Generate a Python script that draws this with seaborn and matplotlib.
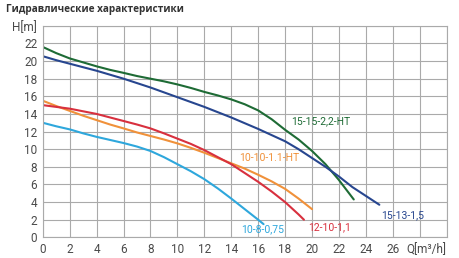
import numpy as np
import pandas as pd
import seaborn as sns
import matplotlib
matplotlib.use("Agg")
import matplotlib.pyplot as plt

# pump curves, Q [m3/h] vs H [m]
q_green = [0, 1, 2, 3, 4, 5, 6, 7, 8, 9, 10, 11, 12, 13, 14, 15, 16, 17, 18, 19, 20, 21, 22, 23.1]
h_green = [21.6, 20.9, 20.3, 19.85, 19.4, 19.0, 18.66, 18.3, 18.0, 17.7, 17.35, 16.95,
           16.5, 16.1, 15.65, 15.1, 14.4, 13.4, 12.2, 11.1, 9.8, 8.3, 6.5, 4.3]

q_blue = [0, 1, 2, 3, 4, 5, 6, 7, 8, 9, 10, 11, 12, 13, 14, 15, 16, 17, 18, 19, 20, 21, 22, 23, 24, 25]
h_blue = [20.55, 20.1, 19.7, 19.3, 18.9, 18.45, 18.0, 17.5, 17.0, 16.45, 15.9, 15.35, 14.8,
          14.2, 13.6, 12.95, 12.3, 11.6, 10.9, 10.0, 9.0, 8.0, 6.9, 5.7, 4.7, 3.7]

q_orange = [0, 1, 2, 3, 4, 5, 6, 7, 8, 9, 10, 11, 12, 13, 14, 15, 16, 17, 18, 19, 20]
h_orange = [15.5, 14.9, 14.35, 13.8, 13.3, 12.8, 12.36, 11.9, 11.5, 11.1, 10.66, 10.15,
            9.6, 9.0, 8.4, 7.8, 7.1, 6.35, 5.5, 4.4, 3.2]

q_red = [0, 1, 2, 3, 4, 5, 6, 7, 8, 9, 10, 11, 12, 13, 14, 15, 16, 17, 18, 19, 19.4]
h_red = [15.0, 14.8, 14.6, 14.3, 14.0, 13.6, 13.2, 12.8, 12.36, 11.8, 11.2, 10.6, 9.9,
         9.1, 8.3, 7.3, 6.3, 5.2, 4.0, 2.6, 2.0]

q_cyan = [0, 1, 2, 3, 4, 5, 6, 7, 8, 9, 10, 11, 12, 13, 14, 15, 16, 16.4]
h_cyan = [13.0, 12.6, 12.25, 11.8, 11.4, 11.05, 10.7, 10.3, 9.8, 9.1, 8.3, 7.5, 6.6,
          5.55, 4.4, 3.2, 2.0, 1.5]

names = ["15-15-2,2-HT", "15-13-1,5", "10-10-1.1-HT", "12-10-1,1", "10-8-0,75"]
colors = ["#1e6b35", "#27468f", "#f0913a", "#d8303e", "#2ea7dc"]
label_pos = [(20.65, 13.2), (26.7, 2.5), (16.85, 9.0), (21.3, 1.17), (16.3, 0.94)]

x_ticks = list(range(0, 31, 2))
x_labels = [str(t) for t in range(0, 27, 2)] + ["", ""]
y_ticks = list(range(0, 25, 2))
y_labels = [str(t) for t in range(0, 23, 2)] + ["H[m]"]

curves = [(q_green, h_green), (q_blue, h_blue), (q_orange, h_orange),
          (q_red, h_red), (q_cyan, h_cyan)]

sns.set_style("white")
plt.rcParams["font.family"] = ["Roboto", "DejaVu Sans"]

fig, ax = plt.subplots(figsize=(4.6, 2.58), dpi=100)
fig.subplots_adjust(left=0.093, right=0.971, top=0.90, bottom=0.080)

for (q, h), name, c in zip(curves, names, colors):
    sns.lineplot(x=q, y=h, ax=ax, color=c, linewidth=1.5, sort=False)

for name, c, (tx, ty) in zip(names, colors, label_pos):
    ax.text(tx, ty, name, color=c, fontsize=7.5, ha="center", va="center")

ax.set_xlim(0, 30)
ax.set_ylim(0, 24)
ax.set_xticks(x_ticks)
ax.set_xticklabels(x_labels)
ax.set_yticks(y_ticks)
ax.set_yticklabels(y_labels)
ax.tick_params(length=0, labelsize=8.5, labelcolor="#4a4a4a", pad=4)
ax.grid(True, color="#aaaaaa", linewidth=0.8)
ax.set_axisbelow(True)
for s in ax.spines.values():
    s.set_color("#aaaaaa")
    s.set_linewidth(0.8)

ax.text(28.5, -0.027, "Q[m³/h]", transform=ax.get_xaxis_transform(),
        ha="center", va="top", fontsize=8.5, color="#4a4a4a")

fig.text(0.012, 0.985, "Гидравлические характеристики", ha="left", va="top",
         fontsize=7.2, fontweight="bold", color="#333333",
         family=["Open Sans", "DejaVu Sans"])

fig.savefig("out.png", dpi=100)
